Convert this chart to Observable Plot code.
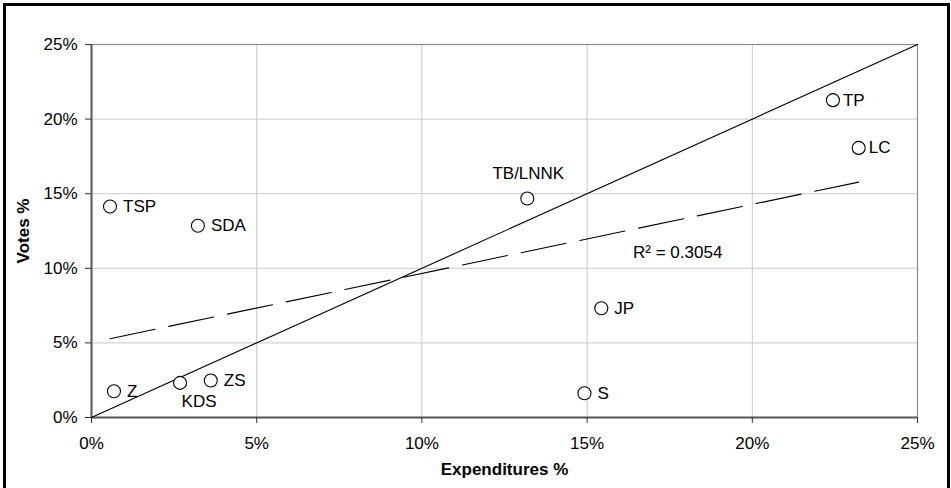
<!DOCTYPE html>
<html><head><meta charset="utf-8">
<script src="https://cdn.jsdelivr.net/npm/d3@7"></script>
<script src="https://cdn.jsdelivr.net/npm/@observablehq/plot@0.6"></script>
<style>
html,body{margin:0;padding:0;background:#fff;overflow:hidden;}
#wrap{position:relative;width:951px;height:488px;overflow:hidden;}
#frame{position:absolute;left:3px;top:3px;width:947px;height:600px;border:3px solid #000;box-sizing:border-box;pointer-events:none;}
svg{display:block}
</style></head><body><div id="wrap"><div id="chart"></div><div id="frame"></div></div>
<script>
// Data
const parties = ["TSP", "Z", "KDS", "SDA", "ZS", "TB/LNNK", "S", "JP", "TP", "LC"];
const expenditures = [0.56, 0.68, 2.68, 3.22, 3.61, 13.19, 14.92, 15.43, 22.44, 23.22];
const votes = [14.14, 1.76, 2.32, 12.85, 2.48, 14.68, 1.63, 7.32, 21.27, 18.07];
const tickValues = [0, 5, 10, 15, 20, 25];
const tickLabels = ["0%", "5%", "10%", "15%", "20%", "25%"];
const parityLine = [0, 25];
const rSquaredText = ["R² = 0.3054"];
const rSquaredAt = [16.39, 11.06];
const xTitle = "Expenditures %";
const yTitle = "Votes %";

const rows = parties.map((p, i) => ({party: p, x: expenditures[i], y: votes[i]}));

// label placement (style only)
const placement = {TP: "near", LC: "near", "TB/LNNK": "above", KDS: "below"};
const group = (g) => rows.filter(d => (placement[d.party] || "right") === g);
const fmt = (d) => tickLabels[tickValues.indexOf(d)];

const chart = Plot.plot({
  width: 951,
  height: 488,
  marginLeft: 91,
  marginRight: 34,
  marginTop: 44,
  marginBottom: 71,
  style: {fontFamily: "'Liberation Sans', Arial, sans-serif", fontSize: "17px", color: "#000", background: "transparent"},
  x: {domain: [0, 25]},
  y: {domain: [0, 25]},
  marks: [
    Plot.gridX(tickValues, {stroke: "#c8c8c8", strokeOpacity: 1, strokeWidth: 1}),
    Plot.gridY(tickValues, {stroke: "#c8c8c8", strokeOpacity: 1, strokeWidth: 1}),
    Plot.frame({stroke: "#8a8a8a", strokeWidth: 1.2}),
    Plot.ruleX([0], {stroke: "#5a5a5a", strokeWidth: 2}),
    Plot.ruleY([0], {stroke: "#5a5a5a", strokeWidth: 2}),
    Plot.axisX({ticks: tickValues, tickFormat: fmt, tickSize: 6, tickPadding: 13, label: null, stroke: "#333"}),
    Plot.axisY({ticks: tickValues, tickFormat: fmt, tickSize: 6, tickPadding: 8, label: null, stroke: "#333"}),
    Plot.line(parityLine, {x: d => d, y: d => d, stroke: "#000", strokeWidth: 1.1}),
    Plot.linearRegressionY(rows, {x: "x", y: "y", ci: 0, stroke: "#000", strokeWidth: 1.1, strokeDasharray: "46 14"}),
    Plot.dot(rows, {x: "x", y: "y", r: 6.5, stroke: "#000", fill: "#fff", strokeWidth: 1.1}),
    Plot.text(group("right"), {x: "x", y: "y", text: "party", dx: 13, textAnchor: "start", lineAnchor: "middle", fill: "#000"}),
    Plot.text(group("near"), {x: "x", y: "y", text: "party", dx: 10, textAnchor: "start", lineAnchor: "middle", fill: "#000"}),
    Plot.text(group("above"), {x: "x", y: "y", text: "party", dx: 1, dy: -25, textAnchor: "middle", lineAnchor: "middle", fill: "#000"}),
    Plot.text(group("below"), {x: "x", y: "y", text: "party", dx: 19, dy: 19, textAnchor: "middle", lineAnchor: "middle", fill: "#000"}),
    Plot.text(rSquaredText, {x: () => rSquaredAt[0], y: () => rSquaredAt[1], text: d => d, textAnchor: "start", lineAnchor: "middle", fill: "#000"}),
    Plot.text([yTitle], {frameAnchor: "left", text: d => d, rotate: -90, dx: -68, fontWeight: "bold", lineAnchor: "middle", textAnchor: "middle", fill: "#000"}),
    Plot.text([xTitle], {frameAnchor: "bottom", text: d => d, dy: 52.5, fontWeight: "bold", lineAnchor: "middle", textAnchor: "middle", fill: "#000"})
  ]
});
document.getElementById("chart").appendChild(chart);
</script>
</body></html>
